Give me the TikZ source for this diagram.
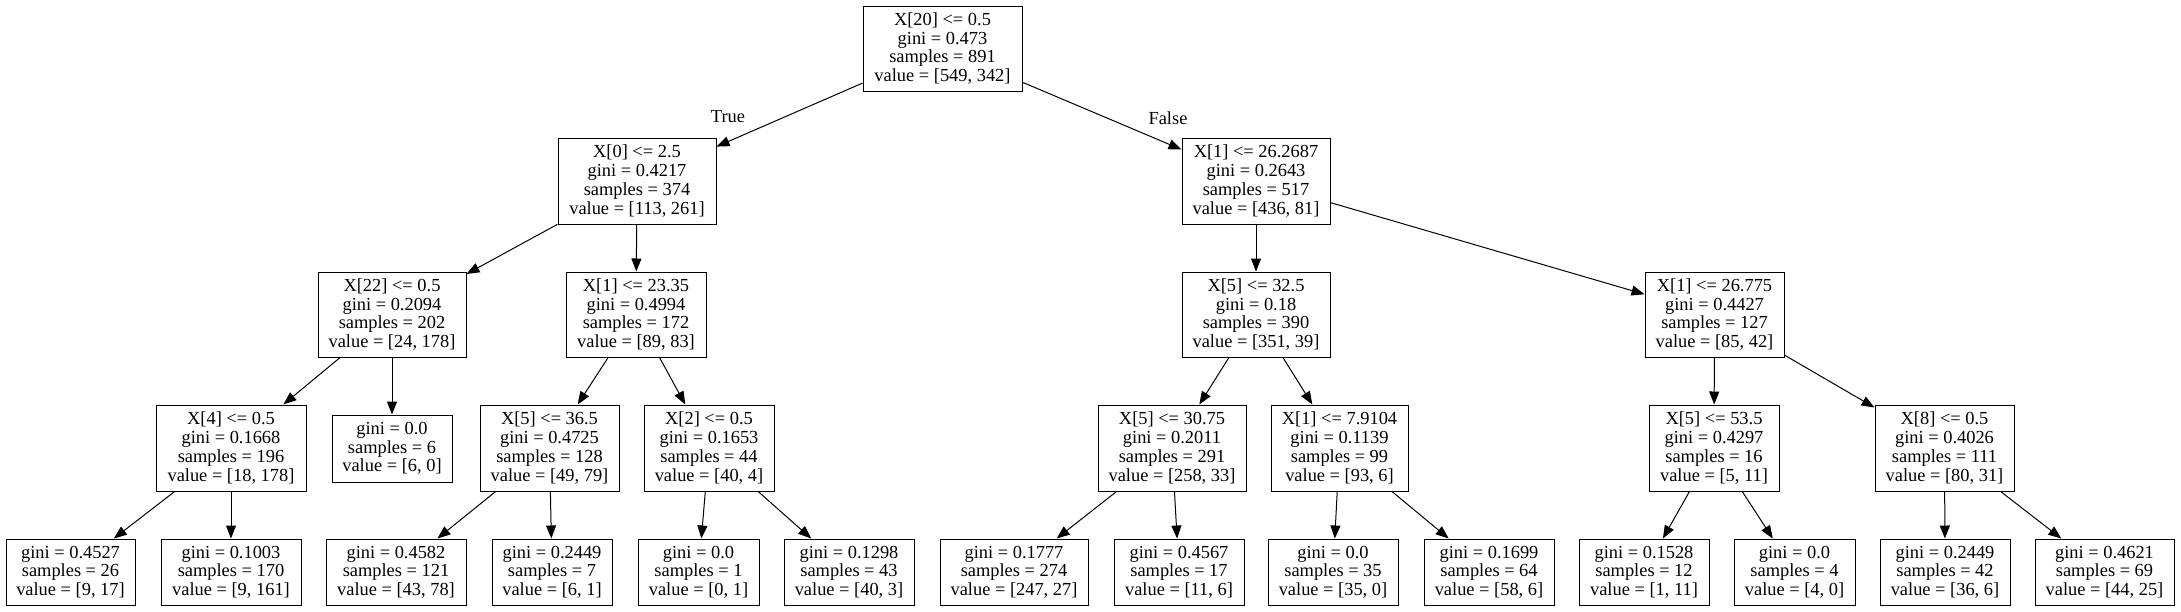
\documentclass[tikz,border=0pt]{standalone}
\usepackage{fontspec}
\setmainfont{Liberation Serif}
\usetikzlibrary{arrows.meta}
\tikzset{
  tbox/.style={draw=black, line width=1pt, rectangle, inner sep=0pt, align=center,
    font=\fontsize{18.4}{18.7}\selectfont},
  edge/.style={line width=1pt, -{Triangle[length=13pt,width=10pt]}},
  elabel/.style={font=\fontsize{18.4}{18.7}\selectfont, inner sep=0pt}
}
\begin{document}
\begin{tikzpicture}[x=1pt,y=-1pt]
\useasboundingbox (0,0) rectangle (2181,611);
% level 0
\node[tbox, minimum width=159pt, minimum height=85pt] (root) at (942.5,48.5) {X[20] <= 0.5\\gini = 0.473\\samples = 891\\value = [549, 342]};
% level 1
\node[tbox, minimum width=158pt, minimum height=86pt] (n1) at (637,181) {X[0] <= 2.5\\gini = 0.4217\\samples = 374\\value = [113, 261]};
\node[tbox, minimum width=148pt, minimum height=86pt] (n2) at (1256,181) {X[1] <= 26.2687\\gini = 0.2643\\samples = 517\\value = [436, 81]};
% level 2
\node[tbox, minimum width=148pt, minimum height=85pt] (n3) at (392,314.5) {X[22] <= 0.5\\gini = 0.2094\\samples = 202\\value = [24, 178]};
\node[tbox, minimum width=140pt, minimum height=85pt] (n4) at (636,314.5) {X[1] <= 23.35\\gini = 0.4994\\samples = 172\\value = [89, 83]};
\node[tbox, minimum width=148pt, minimum height=85pt] (n5) at (1256,314.5) {X[5] <= 32.5\\gini = 0.18\\samples = 390\\value = [351, 39]};
\node[tbox, minimum width=139pt, minimum height=85pt] (n6) at (1714.5,314.5) {X[1] <= 26.775\\gini = 0.4427\\samples = 127\\value = [85, 42]};
% level 3
\node[tbox, minimum width=150pt, minimum height=86pt] (n7) at (231,448) {X[4] <= 0.5\\gini = 0.1668\\samples = 196\\value = [18, 178]};
\node[tbox, minimum width=120pt, minimum height=67pt] (n8) at (392,448.5) {gini = 0.0\\samples = 6\\value = [6, 0]};
\node[tbox, minimum width=139pt, minimum height=86pt] (n9) at (549.5,448) {X[5] <= 36.5\\gini = 0.4725\\samples = 128\\value = [49, 79]};
\node[tbox, minimum width=130pt, minimum height=86pt] (n10) at (709,448) {X[2] <= 0.5\\gini = 0.1653\\samples = 44\\value = [40, 4]};
\node[tbox, minimum width=148pt, minimum height=86pt] (n11) at (1172,448) {X[5] <= 30.75\\gini = 0.2011\\samples = 291\\value = [258, 33]};
\node[tbox, minimum width=137pt, minimum height=86pt] (n12) at (1339.5,448) {X[1] <= 7.9104\\gini = 0.1139\\samples = 99\\value = [93, 6]};
\node[tbox, minimum width=130pt, minimum height=86pt] (n13) at (1714,448) {X[5] <= 53.5\\gini = 0.4297\\samples = 16\\value = [5, 11]};
\node[tbox, minimum width=139pt, minimum height=86pt] (n14) at (1944.5,448) {X[8] <= 0.5\\gini = 0.4026\\samples = 111\\value = [80, 31]};
% leaves
\node[tbox, minimum width=129pt, minimum height=66pt] (l1) at (70.5,572) {gini = 0.4527\\samples = 26\\value = [9, 17]};
\node[tbox, minimum width=140pt, minimum height=66pt] (l2) at (231,572) {gini = 0.1003\\samples = 170\\value = [9, 161]};
\node[tbox, minimum width=140pt, minimum height=66pt] (l3) at (396,572) {gini = 0.4582\\samples = 121\\value = [43, 78]};
\node[tbox, minimum width=120pt, minimum height=66pt] (l4) at (552,572) {gini = 0.2449\\samples = 7\\value = [6, 1]};
\node[tbox, minimum width=121pt, minimum height=66pt] (l5) at (698.5,572) {gini = 0.0\\samples = 1\\value = [0, 1]};
\node[tbox, minimum width=130pt, minimum height=66pt] (l6) at (849,572) {gini = 0.1298\\samples = 43\\value = [40, 3]};
\node[tbox, minimum width=148pt, minimum height=66pt] (l7) at (1014,572) {gini = 0.1777\\samples = 274\\value = [247, 27]};
\node[tbox, minimum width=130pt, minimum height=66pt] (l8) at (1179,572) {gini = 0.4567\\samples = 17\\value = [11, 6]};
\node[tbox, minimum width=130pt, minimum height=66pt] (l9) at (1333,572) {gini = 0.0\\samples = 35\\value = [35, 0]};
\node[tbox, minimum width=130pt, minimum height=66pt] (l10) at (1489,572) {gini = 0.1699\\samples = 64\\value = [58, 6]};
\node[tbox, minimum width=130pt, minimum height=66pt] (l11) at (1644,572) {gini = 0.1528\\samples = 12\\value = [1, 11]};
\node[tbox, minimum width=121pt, minimum height=66pt] (l12) at (1794.5,572) {gini = 0.0\\samples = 4\\value = [4, 0]};
\node[tbox, minimum width=130pt, minimum height=66pt] (l13) at (1945,572) {gini = 0.2449\\samples = 42\\value = [36, 6]};
\node[tbox, minimum width=139pt, minimum height=66pt] (l14) at (2104.5,572) {gini = 0.4621\\samples = 69\\value = [44, 25]};
% edge labels
\node[elabel] (tl) at (728,117) {True};
\node[elabel] (fl) at (1168,118) {False};
% edges
\draw[edge] (root) -- (n1);
\draw[edge] (root) -- (n2);
\draw[edge] (n1) -- (n3);
\draw[edge] (n1) -- (n4);
\draw[edge] (n2) -- (n5);
\draw[edge] (n2) -- (n6);
\draw[edge] (n3) -- (n7);
\draw[edge] (n3) -- (n8);
\draw[edge] (n4) -- (n9);
\draw[edge] (n4) -- (n10);
\draw[edge] (n5) -- (n11);
\draw[edge] (n5) -- (n12);
\draw[edge] (n6) -- (n13);
\draw[edge] (n6) -- (n14);
\draw[edge] (n7) -- (l1);
\draw[edge] (n7) -- (l2);
\draw[edge] (n9) -- (l3);
\draw[edge] (n9) -- (l4);
\draw[edge] (n10) -- (l5);
\draw[edge] (n10) -- (l6);
\draw[edge] (n11) -- (l7);
\draw[edge] (n11) -- (l8);
\draw[edge] (n12) -- (l9);
\draw[edge] (n12) -- (l10);
\draw[edge] (n13) -- (l11);
\draw[edge] (n13) -- (l12);
\draw[edge] (n14) -- (l13);
\draw[edge] (n14) -- (l14);
\end{tikzpicture}
\end{document}
